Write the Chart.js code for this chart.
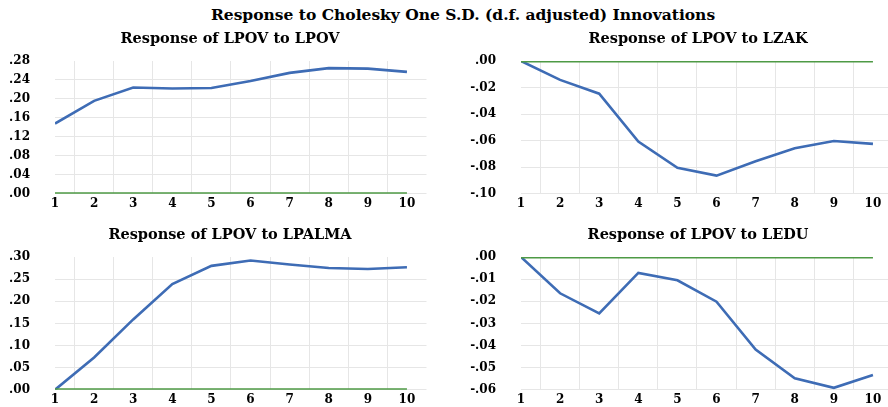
<!DOCTYPE html>
<html>
<head>
<meta charset="utf-8">
<script src="https://cdn.jsdelivr.net/npm/chart.js@4/dist/chart.umd.min.js"></script>
<style>
  body { margin: 0; width: 888px; height: 407px; overflow: hidden; background: #fff; position: relative; }
  #mainTitle { position: absolute; left: 0; top: 5px; width: 926px; text-align: center; font: bold 15.5px "DejaVu Serif", serif; line-height: 20px; color: #000; }
  canvas { position: absolute; }
  #c1 { left: 0; top: 22px; }
  #c2 { left: 444px; top: 22px; }
  #c3 { left: 0; top: 218px; }
  #c4 { left: 444px; top: 218px; }
</style>
</head>
<body>
<div id="mainTitle">Response to Cholesky One S.D. (d.f. adjusted) Innovations</div>
<canvas id="c1" width="460" height="204"></canvas>
<canvas id="c2" width="508" height="204"></canvas>
<canvas id="c3" width="460" height="204"></canvas>
<canvas id="c4" width="508" height="204"></canvas>
<script>
// periods 1..10
const periods = [1, 2, 3, 4, 5, 6, 7, 8, 9, 10];

// responses of LPOV
const respLpov = [0.148, 0.196, 0.224, 0.222, 0.223, 0.238, 0.255, 0.265, 0.264, 0.257];
const respLzak = [0, -0.0142, -0.0246, -0.0607, -0.0804, -0.0863, -0.0755, -0.0657, -0.0602, -0.0624];
const respLpalma = [0, 0.073, 0.159, 0.239, 0.280, 0.292, 0.283, 0.275, 0.273, 0.277];
const respLedu = [0, -0.0164, -0.0255, -0.0072, -0.0105, -0.0202, -0.0418, -0.0548, -0.0591, -0.0533];
const zeroLine = [0, 0, 0, 0, 0, 0, 0, 0, 0, 0];

// y tick labels per panel
const yTicksLpov = [0, 0.04, 0.08, 0.12, 0.16, 0.20, 0.24, 0.28];
const yTicksLzak = [-0.10, -0.08, -0.06, -0.04, -0.02, 0];
const yTicksLpalma = [0, 0.05, 0.10, 0.15, 0.20, 0.25, 0.30];
const yTicksLedu = [-0.06, -0.05, -0.04, -0.03, -0.02, -0.01, 0];

const BLUE = '#3e6cb5';
const GREEN = '#4e9a45';
const GRID = '#e6e6e6';
const FAMILY = '"DejaVu Serif", serif';

const fmt = v => Number(v).toFixed(2).replace(/^(-?)0\./, '$1.');

function drawPanel(id, title, values, yTicks, yWidth, padRight) {
  const yMax = yTicks[yTicks.length - 1];
  const tickFont = { family: FAMILY, size: 12, weight: 'bold' };
  return new Chart(document.getElementById(id), {
    type: 'line',
    data: {
      datasets: [
        { data: zeroLine.map((v, i) => ({ x: periods[i], y: v })), borderColor: GREEN, borderWidth: 3, pointRadius: 0, xAxisID: 'x', yAxisID: 'y' },
        { data: values.map((v, i) => ({ x: periods[i], y: v })), borderColor: BLUE, borderWidth: 2.6, pointRadius: 0, xAxisID: 'x', yAxisID: 'y' },
      ],
    },
    options: {
      responsive: false,
      animation: false,
      events: [],
      layout: { padding: 0 },
      plugins: {
        legend: { display: false },
        tooltip: { enabled: false },
        title: {
          display: true, text: title, color: '#000',
          font: { family: FAMILY, size: 14.5, weight: 'bold' },
          padding: { top: 8.5, bottom: 13.1 },
        },
      },
      scales: {
        // vertical grid sits between the periods
        xg: {
          type: 'linear', position: 'bottom', min: 1, max: 10.5,
          afterBuildTicks: s => { s.ticks = periods.slice(0, -1).map(v => ({ value: v + 0.5 })); },
          grid: { color: GRID, drawTicks: false },
          border: { display: false },
          ticks: { display: false },
          afterFit: s => { s.height = 0; },
        },
        x: {
          type: 'linear', position: 'bottom', min: 1, max: 10.5,
          afterBuildTicks: s => { s.ticks = periods.map(v => ({ value: v })); },
          grid: { display: false, drawTicks: false },
          border: { display: false },
          ticks: { color: '#000', font: tickFont, padding: 3, maxRotation: 0, autoSkip: false },
          afterFit: s => { s.height = 32; },
        },
        y: {
          type: 'linear', min: yTicks[0], max: yMax,
          afterBuildTicks: s => { s.ticks = yTicks.map(v => ({ value: v })); },
          grid: { color: c => (c.tick && Math.abs(c.tick.value - yMax) < 1e-9 ? 'rgba(0,0,0,0)' : GRID), drawTicks: false },
          border: { display: false },
          ticks: { color: '#000', font: tickFont, padding: 25, callback: v => fmt(v) },
          afterFit: s => { s.width = yWidth; },
        },
        pad: {
          type: 'linear', position: 'right', display: true,
          grid: { display: false }, border: { display: false }, ticks: { display: false },
          afterFit: s => { s.width = padRight; },
        },
      },
    },
  });
}

drawPanel('c1', 'Response of LPOV to LPOV', respLpov, yTicksLpov, 55, 33.5);
drawPanel('c2', 'Response of LPOV to LZAK', respLzak, yTicksLzak, 77, 59.5);
drawPanel('c3', 'Response of LPOV to LPALMA', respLpalma, yTicksLpalma, 55, 33.5);
drawPanel('c4', 'Response of LPOV to LEDU', respLedu, yTicksLedu, 77, 59.5);
</script>
</body>
</html>
